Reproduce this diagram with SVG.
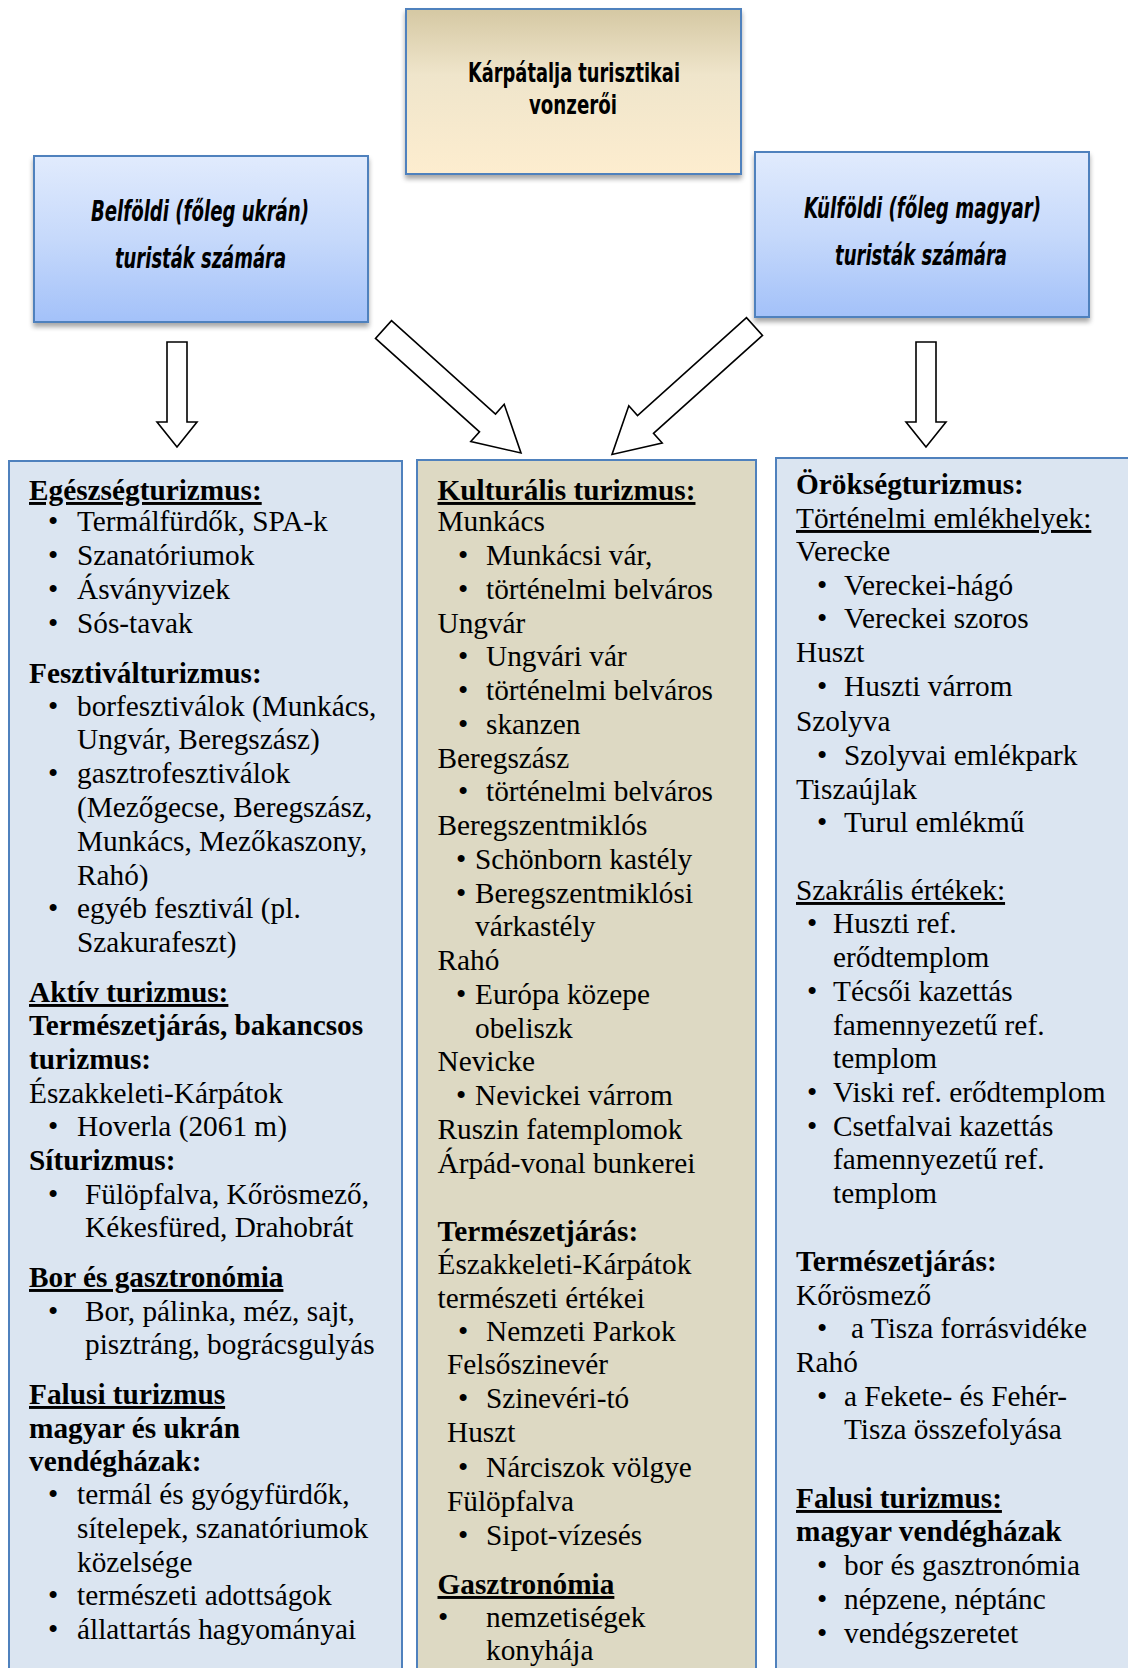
<svg xmlns="http://www.w3.org/2000/svg" width="1128" height="1668" viewBox="0 0 1128 1668">
<style>
  .t { font-family: "Liberation Serif", "Times New Roman", serif; font-size: 29.3px; fill: #000; }
  .b { font-weight: bold; }
  .u { text-decoration: underline; }
  .hd { font-family: "Liberation Sans Narrow", "DejaVu Sans Condensed", "Open Sans", sans-serif; font-weight: bold; fill: #000; }
  .box { stroke: #4f81bd; stroke-width: 2; }
  .arrow { fill: #fff; stroke: #000; stroke-width: 1.6; stroke-linejoin: miter; }
</style>
<defs>
  <linearGradient id="gBlue" x1="0" y1="0" x2="0" y2="1">
    <stop offset="0" stop-color="#e1ebfd"/>
    <stop offset="0.5" stop-color="#c6d9fb"/>
    <stop offset="1" stop-color="#a3c1f9"/>
  </linearGradient>
  <linearGradient id="gTan" x1="0" y1="0" x2="0" y2="1">
    <stop offset="0" stop-color="#d5c8a3"/>
    <stop offset="0.4" stop-color="#efe5cb"/>
    <stop offset="1" stop-color="#fdedcf"/>
  </linearGradient>
  <filter id="sh" x="-10%" y="-10%" width="120%" height="130%">
    <feGaussianBlur in="SourceAlpha" stdDeviation="2.5"/>
    <feOffset dx="0" dy="4" result="o"/>
    <feComponentTransfer><feFuncA type="linear" slope="0.35"/></feComponentTransfer>
    <feMerge><feMergeNode/><feMergeNode in="SourceGraphic"/></feMerge>
  </filter>
</defs>

<g id="title">
  <rect class="box" x="406" y="9" width="335" height="165" fill="url(#gTan)" filter="url(#sh)"/>
  <text class="hd" x="468" y="82" font-size="27" textLength="212" lengthAdjust="spacingAndGlyphs">Kárpátalja turisztikai</text>
  <text class="hd" x="529" y="114" font-size="27" textLength="88" lengthAdjust="spacingAndGlyphs">vonzerői</text>
</g>

<g id="belfoldi">
  <rect class="box" x="34" y="156" width="334" height="166" fill="url(#gBlue)" filter="url(#sh)"/>
  <text class="hd" x="91" y="221" font-size="28" font-style="italic" textLength="218" lengthAdjust="spacingAndGlyphs">Belföldi (főleg ukrán)</text>
  <text class="hd" x="115" y="268" font-size="28" font-style="italic" textLength="171" lengthAdjust="spacingAndGlyphs">turisták számára</text>
</g>

<g id="kulfoldi">
  <rect class="box" x="755" y="152" width="334" height="165" fill="url(#gBlue)" filter="url(#sh)"/>
  <text class="hd" x="804" y="218" font-size="28" font-style="italic" textLength="237" lengthAdjust="spacingAndGlyphs">Külföldi (főleg magyar)</text>
  <text class="hd" x="835" y="265" font-size="28" font-style="italic" textLength="172" lengthAdjust="spacingAndGlyphs">turisták számára</text>
</g>

<g id="connectors">
  <polygon class="arrow" points="167,342 187,342 187,422 197,422 177,447 157,422 167,422"/>
  <polygon class="arrow" points="916,342 936,342 936,422 946,422 926,447 906,422 916,422"/>
  <polygon class="arrow" points="391.5,320.6 495.5,414 504.2,404.3 521,453 470.8,441.5 479.5,431.8 375.5,338.4"/>
  <polygon class="arrow" points="746.5,317.6 637.5,415.5 628.8,405.8 612,454.5 662.2,443 653.5,433.3 762.5,335.4"/>
</g>

<g id="belfoldi-list">
  <rect class="box" x="9" y="461" width="393" height="1230" fill="#dbe5f1"/>
  <text class="t b u" x="29" y="500">Egészségturizmus:</text>
  <text class="t" y="531"><tspan x="48">•</tspan><tspan x="77">Termálfürdők, SPA-k</tspan></text>
  <text class="t" y="565"><tspan x="48">•</tspan><tspan x="77">Szanatóriumok</tspan></text>
  <text class="t" y="599"><tspan x="48">•</tspan><tspan x="77">Ásványvizek</tspan></text>
  <text class="t" y="633"><tspan x="48">•</tspan><tspan x="77">Sós-tavak</tspan></text>
  <text class="t b" x="29" y="683">Fesztiválturizmus:</text>
  <text class="t" y="716"><tspan x="48">•</tspan><tspan x="77">borfesztiválok (Munkács,</tspan></text>
  <text class="t" x="77" y="749">Ungvár, Beregszász)</text>
  <text class="t" y="783"><tspan x="48">•</tspan><tspan x="77">gasztrofesztiválok</tspan></text>
  <text class="t" x="77" y="817">(Mezőgecse, Beregszász,</text>
  <text class="t" x="77" y="851">Munkács, Mezőkaszony,</text>
  <text class="t" x="77" y="885">Rahó)</text>
  <text class="t" y="918"><tspan x="48">•</tspan><tspan x="77">egyéb fesztivál (pl.</tspan></text>
  <text class="t" x="77" y="952">Szakurafeszt)</text>
  <text class="t b u" x="29" y="1002">Aktív turizmus:</text>
  <text class="t b" x="29" y="1035">Természetjárás, bakancsos</text>
  <text class="t b" x="29" y="1069">turizmus:</text>
  <text class="t" x="29" y="1103">Északkeleti-Kárpátok</text>
  <text class="t" y="1136"><tspan x="48">•</tspan><tspan x="77">Hoverla (2061 m)</tspan></text>
  <text class="t b" x="29" y="1170">Síturizmus:</text>
  <text class="t" y="1204"><tspan x="48">•</tspan><tspan x="85">Fülöpfalva, Kőrösmező,</tspan></text>
  <text class="t" x="85" y="1237">Kékesfüred, Drahobrát</text>
  <text class="t b u" x="29" y="1287">Bor és gasztronómia</text>
  <text class="t" y="1321"><tspan x="48">•</tspan><tspan x="85">Bor, pálinka, méz, sajt,</tspan></text>
  <text class="t" x="85" y="1354">pisztráng, bográcsgulyás</text>
  <text class="t b u" x="29" y="1404">Falusi turizmus</text>
  <text class="t b" x="29" y="1438">magyar és ukrán</text>
  <text class="t b" x="29" y="1471">vendégházak:</text>
  <text class="t" y="1504"><tspan x="48">•</tspan><tspan x="77">termál és gyógyfürdők,</tspan></text>
  <text class="t" x="77" y="1538">sítelepek, szanatóriumok</text>
  <text class="t" x="77" y="1572">közelsége</text>
  <text class="t" y="1605"><tspan x="48">•</tspan><tspan x="77">természeti adottságok</tspan></text>
  <text class="t" y="1639"><tspan x="48">•</tspan><tspan x="77">állattartás hagyományai</tspan></text>
</g>

<g id="kulturalis-list">
  <rect class="box" x="417" y="460" width="339" height="1230" fill="#ddd9c3"/>
  <text class="t b u" x="437.5" y="500">Kulturális turizmus:</text>
  <text class="t" x="437.5" y="531">Munkács</text>
  <text class="t" y="565"><tspan x="458">•</tspan><tspan x="486">Munkácsi vár,</tspan></text>
  <text class="t" y="599"><tspan x="458">•</tspan><tspan x="486">történelmi belváros</tspan></text>
  <text class="t" x="437.5" y="633">Ungvár</text>
  <text class="t" y="666"><tspan x="458">•</tspan><tspan x="486">Ungvári vár</tspan></text>
  <text class="t" y="700"><tspan x="458">•</tspan><tspan x="486">történelmi belváros</tspan></text>
  <text class="t" y="734"><tspan x="458">•</tspan><tspan x="486">skanzen</tspan></text>
  <text class="t" x="437.5" y="768">Beregszász</text>
  <text class="t" y="801"><tspan x="458">•</tspan><tspan x="486">történelmi belváros</tspan></text>
  <text class="t" x="437.5" y="835">Beregszentmiklós</text>
  <text class="t" y="869"><tspan x="456">•</tspan><tspan x="475">Schönborn kastély</tspan></text>
  <text class="t" y="903"><tspan x="456">•</tspan><tspan x="475">Beregszentmiklósi</tspan></text>
  <text class="t" x="475" y="936">várkastély</text>
  <text class="t" x="437.5" y="970">Rahó</text>
  <text class="t" y="1004"><tspan x="456">•</tspan><tspan x="475">Európa közepe</tspan></text>
  <text class="t" x="475" y="1038">obeliszk</text>
  <text class="t" x="437.5" y="1071">Nevicke</text>
  <text class="t" y="1105"><tspan x="456">•</tspan><tspan x="475">Nevickei várrom</tspan></text>
  <text class="t" x="437.5" y="1139">Ruszin fatemplomok</text>
  <text class="t" x="437.5" y="1173">Árpád-vonal bunkerei</text>
  <text class="t b" x="437.5" y="1241">Természetjárás:</text>
  <text class="t" x="437.5" y="1274">Északkeleti-Kárpátok</text>
  <text class="t" x="437.5" y="1308">természeti értékei</text>
  <text class="t" y="1341"><tspan x="458">•</tspan><tspan x="486">Nemzeti Parkok</tspan></text>
  <text class="t" x="447" y="1374">Felsőszinevér</text>
  <text class="t" y="1408"><tspan x="458">•</tspan><tspan x="486">Szinevéri-tó</tspan></text>
  <text class="t" x="447" y="1442">Huszt</text>
  <text class="t" y="1477"><tspan x="458">•</tspan><tspan x="486">Nárciszok völgye</tspan></text>
  <text class="t" x="447" y="1511">Fülöpfalva</text>
  <text class="t" y="1545"><tspan x="458">•</tspan><tspan x="486">Sipot-vízesés</tspan></text>
  <text class="t b u" x="437.5" y="1594">Gasztronómia</text>
  <text class="t" y="1627"><tspan x="438">•</tspan><tspan x="486">nemzetiségek</tspan></text>
  <text class="t" x="486" y="1660">konyhája</text>
</g>

<g id="orokseg-list">
  <rect class="box" x="776" y="458" width="370" height="1230" fill="#dbe5f1"/>
  <text class="t b" x="796" y="494">Örökségturizmus:</text>
  <text class="t u" x="796" y="528">Történelmi emlékhelyek:</text>
  <text class="t" x="796" y="561">Verecke</text>
  <text class="t" y="595"><tspan x="817">•</tspan><tspan x="844">Vereckei-hágó</tspan></text>
  <text class="t" y="628"><tspan x="817">•</tspan><tspan x="844">Vereckei szoros</tspan></text>
  <text class="t" x="796" y="662">Huszt</text>
  <text class="t" y="696"><tspan x="817">•</tspan><tspan x="844">Huszti várrom</tspan></text>
  <text class="t" x="796" y="731">Szolyva</text>
  <text class="t" y="765"><tspan x="817">•</tspan><tspan x="844">Szolyvai emlékpark</tspan></text>
  <text class="t" x="796" y="799">Tiszaújlak</text>
  <text class="t" y="832"><tspan x="817">•</tspan><tspan x="844">Turul emlékmű</tspan></text>
  <text class="t u" x="796" y="900">Szakrális értékek:</text>
  <text class="t" y="933"><tspan x="807">•</tspan><tspan x="833">Huszti ref.</tspan></text>
  <text class="t" x="833" y="967">erődtemplom</text>
  <text class="t" y="1001"><tspan x="807">•</tspan><tspan x="833">Técsői kazettás</tspan></text>
  <text class="t" x="833" y="1035">famennyezetű ref.</text>
  <text class="t" x="833" y="1068">templom</text>
  <text class="t" y="1102"><tspan x="807">•</tspan><tspan x="833">Viski ref. erődtemplom</tspan></text>
  <text class="t" y="1136"><tspan x="807">•</tspan><tspan x="833">Csetfalvai kazettás</tspan></text>
  <text class="t" x="833" y="1169">famennyezetű ref.</text>
  <text class="t" x="833" y="1203">templom</text>
  <text class="t b" x="796" y="1271">Természetjárás:</text>
  <text class="t" x="796" y="1305">Kőrösmező</text>
  <text class="t" y="1338"><tspan x="817">•</tspan><tspan x="851">a Tisza forrásvidéke</tspan></text>
  <text class="t" x="796" y="1372">Rahó</text>
  <text class="t" y="1406"><tspan x="817">•</tspan><tspan x="844">a Fekete- és Fehér-</tspan></text>
  <text class="t" x="844" y="1439">Tisza összefolyása</text>
  <text class="t b u" x="796" y="1508">Falusi turizmus:</text>
  <text class="t b" x="796" y="1541">magyar vendégházak</text>
  <text class="t" y="1575"><tspan x="817">•</tspan><tspan x="844">bor és gasztronómia</tspan></text>
  <text class="t" y="1609"><tspan x="817">•</tspan><tspan x="844">népzene, néptánc</tspan></text>
  <text class="t" y="1643"><tspan x="817">•</tspan><tspan x="844">vendégszeretet</tspan></text>
</g>
</svg>
